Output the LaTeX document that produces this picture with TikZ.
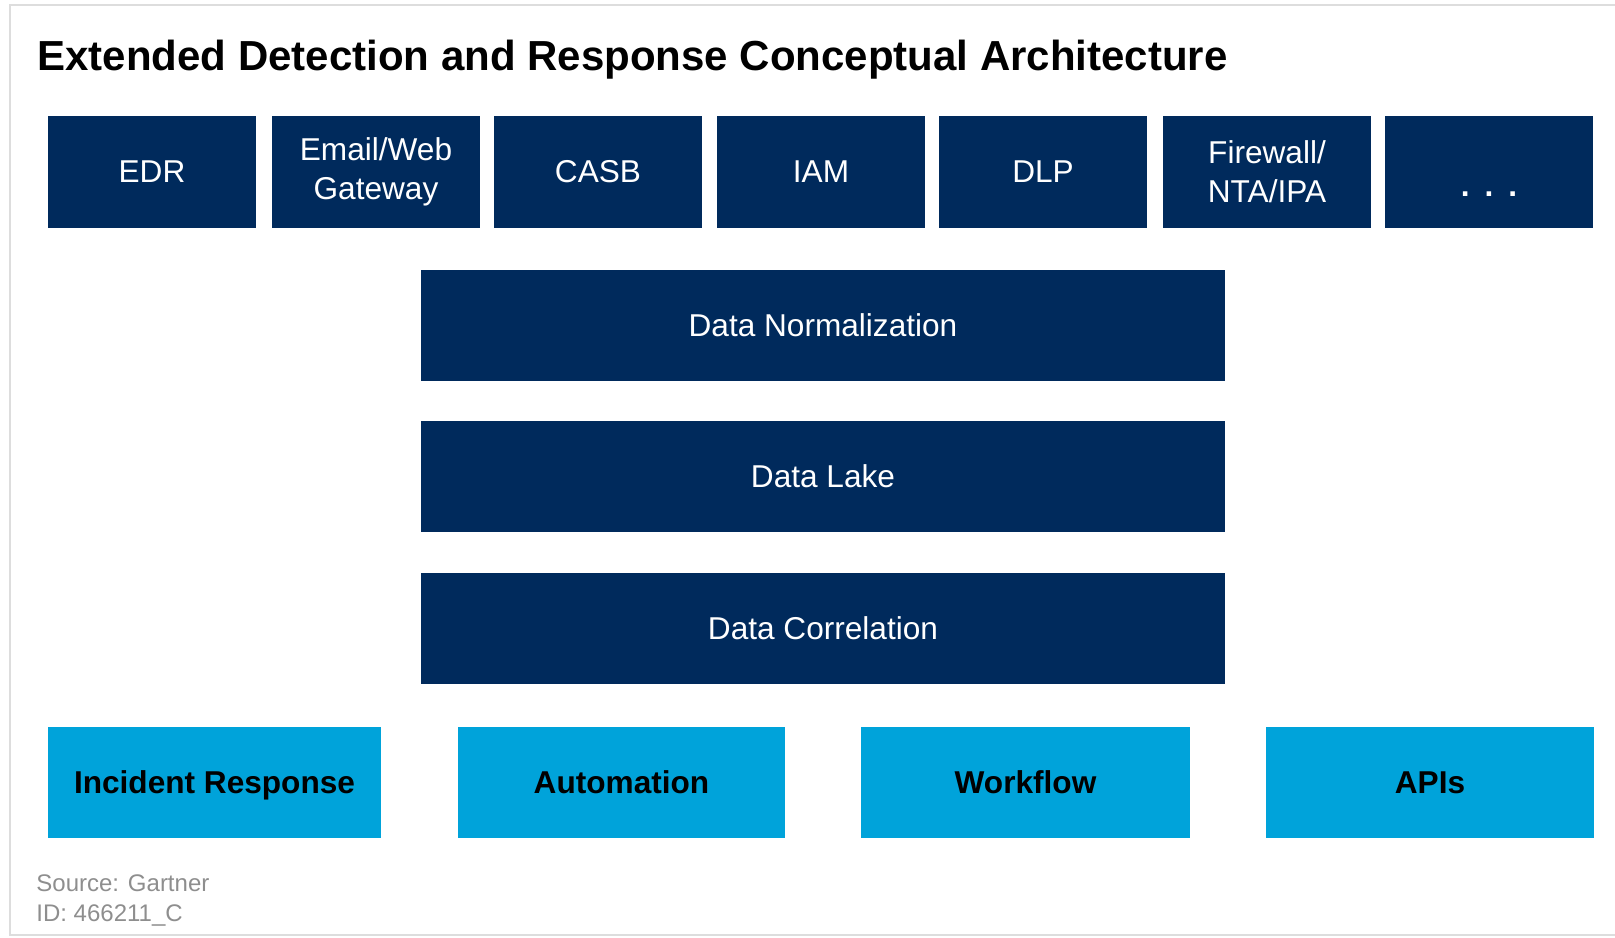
\documentclass[tikz,border=0pt]{standalone}
\usepackage{fontspec}
\setmainfont{Liberation Sans}
\definecolor{navy}{HTML}{002A5C}
\definecolor{cyan}{HTML}{00A3DA}
\definecolor{frame}{HTML}{DDDDDD}
\definecolor{srcgray}{HTML}{8E8E8E}

\begin{document}
\begin{tikzpicture}[x=0.5pt,y=-0.5pt,
  src/.style={rectangle,fill=navy,text=white,inner sep=0pt,align=center,
    minimum width=104pt,minimum height=56pt,font=\fontsize{15.8}{19.5}\selectfont},
  layer/.style={rectangle,fill=navy,text=white,inner sep=0pt,text height=12.5pt,text depth=1.5pt,
    minimum width=402pt,minimum height=55.5pt,font=\fontsize{15.8}{19}\selectfont},
  action/.style={rectangle,fill=cyan,text=black,inner sep=0pt,text height=12.5pt,text depth=1.5pt,
    minimum height=55.5pt,font=\fontsize{15.8}{19}\selectfont\bfseries}]
\useasboundingbox (0,0) rectangle (1615,937);
\draw[frame,line width=0.8pt] (1615,5) -- (10,5) -- (10,935) -- (1615,935);

\node [anchor=base west,inner sep=0pt,font=\fontsize{21}{25}\selectfont\bfseries] (title) at (37,70)
  {Extended Detection and Response Conceptual Architecture};

% sources
\node [src] (edr) at (152,172) {EDR};
\node [src] (mail) at (376,172) {Email/Web\\Gateway};
\node [src] (casb) at (598,172) {CASB};
\node [src] (iam) at (821,172) {IAM};
\node [src] (dlp) at (1043,172) {DLP};
\node [src] (fw) at (1267,172) {Firewall/\\NTA/IPA};
\node [src,text height=6pt,text depth=6pt] (more) at (1489,172)
  {\raisebox{-12pt}{\bfseries .\hspace{7.5pt}.\hspace{7.5pt}.}};

% data layers
\node [layer] (norm) at (823,325.5) {Data Normalization};
\node [layer] (lake) at (823,476.5) {Data Lake};
\node [layer] (corr) at (823,628) {Data Correlation};

% response
\node [action,minimum width=166.5pt] (ir) at (214.5,782.5) {Incident Response};
\node [action,minimum width=163.5pt] (auto) at (621.5,782.5) {Automation};
\node [action,minimum width=164.5pt] (wf) at (1025.5,782.5) {Workflow};
\node [action,minimum width=164pt] (api) at (1430,782.5) {APIs};

\node [anchor=base west,inner sep=0pt,align=left,text=srcgray,font=\fontsize{12}{15}\selectfont] (source) at (36,921)
  {Source: Gartner\\ID: 466211\_C};
\end{tikzpicture}
\end{document}
